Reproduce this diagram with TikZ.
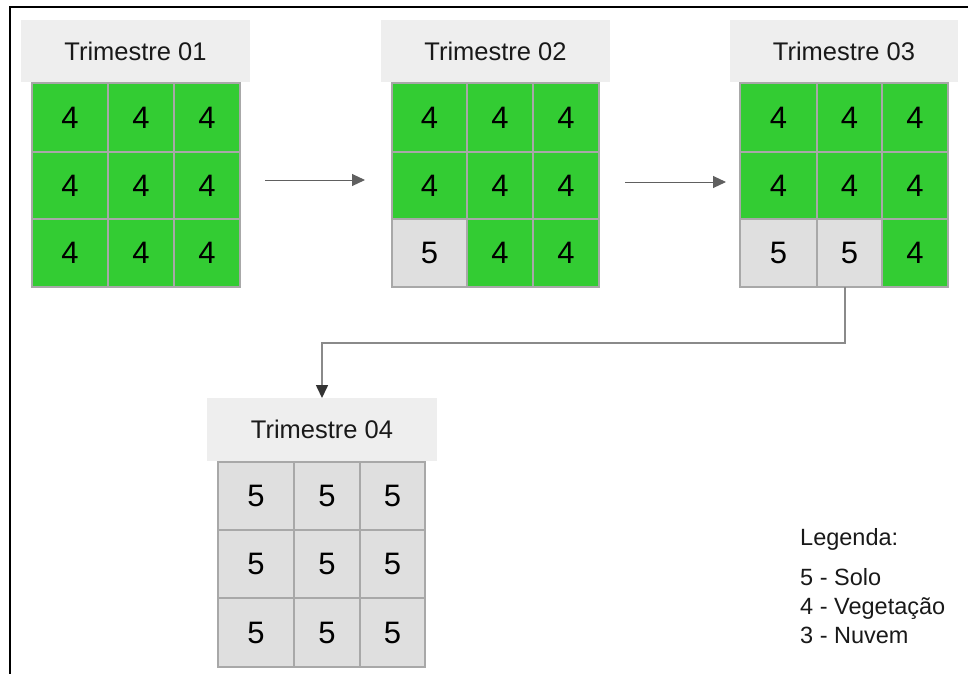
\documentclass[tikz,border=0pt]{standalone}
\usepackage{fontspec}
\setmainfont{Liberation Sans}
\usetikzlibrary{arrows.meta,calc}
\definecolor{veg}{HTML}{33CC33}
\definecolor{solo}{HTML}{DFDFDF}
\definecolor{headfill}{HTML}{EEEEEE}
\definecolor{cellline}{HTML}{A8A8A8}
\definecolor{arrline}{HTML}{606060}
\definecolor{linkline}{HTML}{8A8A8A}
\newcommand\mkcell[7]{\node[cellbox,fill=#6,minimum width={(#4-#2)*1pt},minimum height={(#5-#3)*1pt}] (#1) at ({(#2+#4)/2},{(#3+#5)/2}) {#7};}
\newcommand\mkhead[6]{\node[headbox,minimum width={(#4-#2)*1pt},minimum height={(#5-#3)*1pt}] (#1) at ({(#2+#4)/2},{(#3+#5)/2}) {#6};}
\begin{document}
\begin{tikzpicture}[x=1pt,y=-1pt,
  cellbox/.style={draw=cellline,line width=1.5pt,inner sep=0pt,outer sep=0pt,font=\fontsize{31}{31}\selectfont,text=black},
  headbox/.style={fill=headfill,inner sep=0pt,outer sep=0pt,font=\fontsize{25.5}{25.5}\selectfont,text=black!90},
  flowarrow/.style={draw=arrline,line width=1pt,-{Triangle[length=13pt,width=12pt]}},
  linkarrow/.style={draw=linkline,line width=1.6pt,-{Triangle[length=13pt,width=12pt,color=black!80]}},
  legtext/.style={anchor=base west,inner sep=0pt,font=\fontsize{23.5}{23.5}\selectfont,text=black!90}]
\useasboundingbox (0,0) rectangle (968,673);
\begin{scope}
\clip (0,0) rectangle (968,673);
\draw[line width=1.8pt] (10,700) -- (10,7) -- (980,7);
\end{scope}
% headers
\mkhead{h1}{21}{20}{250}{82}{Trimestre 01}
\mkhead{h2}{381}{20}{610}{82}{Trimestre 02}
\mkhead{h3}{730}{20}{958}{82}{Trimestre 03}
\mkhead{h4}{207}{398}{437}{461}{Trimestre 04}
% grid 1
\mkcell{a11}{32}{83}{108}{152}{veg}{4}
\mkcell{a12}{108}{83}{174}{152}{veg}{4}
\mkcell{a13}{174}{83}{240}{152}{veg}{4}
\mkcell{a21}{32}{152}{108}{219}{veg}{4}
\mkcell{a22}{108}{152}{174}{219}{veg}{4}
\mkcell{a23}{174}{152}{240}{219}{veg}{4}
\mkcell{a31}{32}{219}{108}{287}{veg}{4}
\mkcell{a32}{108}{219}{174}{287}{veg}{4}
\mkcell{a33}{174}{219}{240}{287}{veg}{4}
% grid 2
\mkcell{b11}{392}{83}{467}{152}{veg}{4}
\mkcell{b12}{467}{83}{533}{152}{veg}{4}
\mkcell{b13}{533}{83}{599}{152}{veg}{4}
\mkcell{b21}{392}{152}{467}{219}{veg}{4}
\mkcell{b22}{467}{152}{533}{219}{veg}{4}
\mkcell{b23}{533}{152}{599}{219}{veg}{4}
\mkcell{b31}{392}{219}{467}{287}{solo}{5}
\mkcell{b32}{467}{219}{533}{287}{veg}{4}
\mkcell{b33}{533}{219}{599}{287}{veg}{4}
% grid 3
\mkcell{c11}{740}{83}{817}{152}{veg}{4}
\mkcell{c12}{817}{83}{882}{152}{veg}{4}
\mkcell{c13}{882}{83}{948}{152}{veg}{4}
\mkcell{c21}{740}{152}{817}{219}{veg}{4}
\mkcell{c22}{817}{152}{882}{219}{veg}{4}
\mkcell{c23}{882}{152}{948}{219}{veg}{4}
\mkcell{c31}{740}{219}{817}{287}{solo}{5}
\mkcell{c32}{817}{219}{882}{287}{solo}{5}
\mkcell{c33}{882}{219}{948}{287}{veg}{4}
% grid 4
\mkcell{d11}{218}{462}{294}{530}{solo}{5}
\mkcell{d12}{294}{462}{360}{530}{solo}{5}
\mkcell{d13}{360}{462}{425}{530}{solo}{5}
\mkcell{d21}{218}{530}{294}{598}{solo}{5}
\mkcell{d22}{294}{530}{360}{598}{solo}{5}
\mkcell{d23}{360}{530}{425}{598}{solo}{5}
\mkcell{d31}{218}{598}{294}{667}{solo}{5}
\mkcell{d32}{294}{598}{360}{667}{solo}{5}
\mkcell{d33}{360}{598}{425}{667}{solo}{5}
% connectors
\coordinate (s1) at (265,180);
\coordinate (e1) at (365,180);
\coordinate (s2) at (625,182);
\coordinate (e2) at (726,182);
\draw[flowarrow] (s1) -- (e1);
\draw[flowarrow] (s2) -- (e2);
\coordinate (l0) at (845,287);
\coordinate (l1) at (845,343);
\draw[linkarrow] (l0) -- (l1) -| (h4.north);
% legend
\node[legtext] (lg0) at (800,545) {Legenda:};
\node[legtext] (lg1) at (800,585) {5 - Solo};
\node[legtext] (lg2) at (800,614) {4 - Vegetação};
\node[legtext] (lg3) at (800,643) {3 - Nuvem};
\end{tikzpicture}
\end{document}
